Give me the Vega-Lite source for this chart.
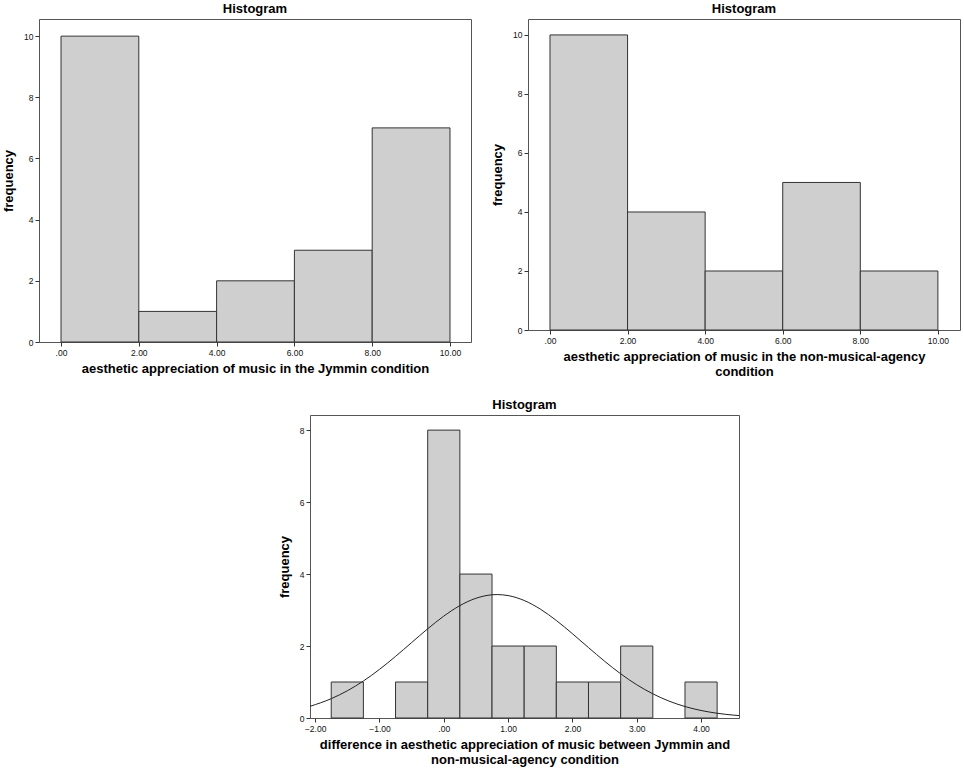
{
  "$schema": "https://vega.github.io/schema/vega-lite/v6.json",
  "background": "white",
  "padding": {"left": 2, "top": 2, "right": 2, "bottom": 2},
  "datasets": {
    "jymmin": [
      {"bin_start": 0, "bin_end": 2, "count": 10},
      {"bin_start": 2, "bin_end": 4, "count": 1},
      {"bin_start": 4, "bin_end": 6, "count": 2},
      {"bin_start": 6, "bin_end": 8, "count": 3},
      {"bin_start": 8, "bin_end": 10, "count": 7}
    ],
    "nma": [
      {"bin_start": 0, "bin_end": 2, "count": 10},
      {"bin_start": 2, "bin_end": 4, "count": 4},
      {"bin_start": 4, "bin_end": 6, "count": 2},
      {"bin_start": 6, "bin_end": 8, "count": 5},
      {"bin_start": 8, "bin_end": 10, "count": 2}
    ],
    "diff": [
      {"bin_start": -1.75, "bin_end": -1.25, "count": 1},
      {"bin_start": -0.75, "bin_end": -0.25, "count": 1},
      {"bin_start": -0.25, "bin_end": 0.25, "count": 8},
      {"bin_start": 0.25, "bin_end": 0.75, "count": 4},
      {"bin_start": 0.75, "bin_end": 1.25, "count": 2},
      {"bin_start": 1.25, "bin_end": 1.75, "count": 2},
      {"bin_start": 1.75, "bin_end": 2.25, "count": 1},
      {"bin_start": 2.25, "bin_end": 2.75, "count": 1},
      {"bin_start": 2.75, "bin_end": 3.25, "count": 2},
      {"bin_start": 3.75, "bin_end": 4.25, "count": 1}
    ],
    "curve": [
      {"x": -2.08, "y": 0.324}, {"x": -1.75, "y": 0.537}, {"x": -1.5, "y": 0.756},
      {"x": -1.25, "y": 1.028}, {"x": -1.0, "y": 1.35}, {"x": -0.75, "y": 1.712},
      {"x": -0.5, "y": 2.096}, {"x": -0.25, "y": 2.479}, {"x": 0.0, "y": 2.831},
      {"x": 0.25, "y": 3.123}, {"x": 0.5, "y": 3.327}, {"x": 0.75, "y": 3.424},
      {"x": 0.83, "y": 3.43}, {"x": 1.0, "y": 3.402}, {"x": 1.25, "y": 3.266},
      {"x": 1.5, "y": 3.027}, {"x": 1.75, "y": 2.71}, {"x": 2.0, "y": 2.343},
      {"x": 2.25, "y": 1.957}, {"x": 2.5, "y": 1.578}, {"x": 2.75, "y": 1.229},
      {"x": 3.0, "y": 0.924}, {"x": 3.25, "y": 0.672}, {"x": 3.5, "y": 0.471},
      {"x": 3.75, "y": 0.319}, {"x": 4.0, "y": 0.209}, {"x": 4.25, "y": 0.132},
      {"x": 4.5, "y": 0.081}, {"x": 4.59, "y": 0.067}
    ]
  },
  "vconcat": [
    {
      "hconcat": [
        {
          "title": "Histogram",
          "width": 432,
          "height": 323,
          "data": {"name": "jymmin"},
          "mark": {"type": "bar", "fill": "#cfcfcf", "stroke": "#333333", "strokeWidth": 1},
          "encoding": {
            "x": {
              "field": "bin_start", "type": "quantitative",
              "scale": {"domain": [-0.566, 10.54], "nice": false, "zero": false},
              "axis": {"values": [0, 2, 4, 6, 8, 10], "title": "aesthetic appreciation of music in the Jymmin condition",
                "labelExpr": "datum.value == 0 ? '.00' : format(datum.value, '.2f')"}
            },
            "x2": {"field": "bin_end"},
            "y": {
              "field": "count", "type": "quantitative",
              "scale": {"domain": [0, 10.56], "nice": false},
              "axis": {"values": [0, 2, 4, 6, 8, 10], "title": "frequency"}
            },
            "y2": {"datum": 0}
          }
        },
        {
          "title": "Histogram",
          "width": 432,
          "height": 311,
          "data": {"name": "nma"},
          "mark": {"type": "bar", "fill": "#cfcfcf", "stroke": "#333333", "strokeWidth": 1},
          "encoding": {
            "x": {
              "field": "bin_start", "type": "quantitative",
              "scale": {"domain": [-0.567, 10.57], "nice": false, "zero": false},
              "axis": {"values": [0, 2, 4, 6, 8, 10], "title": ["aesthetic appreciation of music in the non-musical-agency", "condition"],
                "labelExpr": "datum.value == 0 ? '.00' : format(datum.value, '.2f')"}
            },
            "x2": {"field": "bin_end"},
            "y": {
              "field": "count", "type": "quantitative",
              "scale": {"domain": [0, 10.54], "nice": false},
              "axis": {"values": [0, 2, 4, 6, 8, 10], "title": "frequency"}
            },
            "y2": {"datum": 0}
          }
        }
      ]
    },
    {
      "spacing": 0,
      "hconcat": [
        {
          "width": 238,
          "height": 10,
          "view": {"stroke": null},
          "data": {"values": []},
          "mark": "text"
        },
        {
          "title": "Histogram",
          "width": 429,
          "height": 303,
          "layer": [
            {
              "data": {"name": "diff"},
              "mark": {"type": "bar", "fill": "#cfcfcf", "stroke": "#333333", "strokeWidth": 1},
              "encoding": {
                "x": {
                  "field": "bin_start", "type": "quantitative",
                  "scale": {"domain": [-2.08, 4.59], "nice": false, "zero": false},
                  "axis": {"values": [-2, -1, 0, 1, 2, 3, 4], "title": ["difference in aesthetic appreciation of music between Jymmin and", "non-musical-agency condition"],
                    "labelExpr": "datum.value == 0 ? '.00' : format(datum.value, '.2f')"}
                },
                "x2": {"field": "bin_end"},
                "y": {
                  "field": "count", "type": "quantitative",
                  "scale": {"domain": [0, 8.42], "nice": false},
                  "axis": {"values": [0, 2, 4, 6, 8], "title": "frequency"}
                },
                "y2": {"datum": 0}
              }
            },
            {
              "data": {"name": "curve"},
              "mark": {"type": "line", "color": "#222222", "strokeWidth": 1, "clip": true, "interpolate": "monotone"},
              "encoding": {
                "x": {"field": "x", "type": "quantitative"},
                "y": {"field": "y", "type": "quantitative"}
              }
            }
          ]
        }
      ]
    }
  ],
  "spacing": 19,
  "center": false,
  "config": {
    "font": "Liberation Sans",
    "concat": {"spacing": 19},
    "view": {"stroke": "#555555", "strokeWidth": 1},
    "title": {"fontSize": 13, "fontWeight": "bold", "color": "#000000", "offset": 3},
    "axis": {
      "grid": false,
      "domain": false,
      "tickColor": "#333333",
      "tickSize": 4,
      "labelFontSize": 8.5,
      "labelColor": "#111111",
      "labelPadding": 2,
      "titleFontSize": 13,
      "titleFontWeight": "bold",
      "titleColor": "#000000",
      "titlePadding": 6
    },
    "axisY": {"titlePadding": 8}
  }
}
